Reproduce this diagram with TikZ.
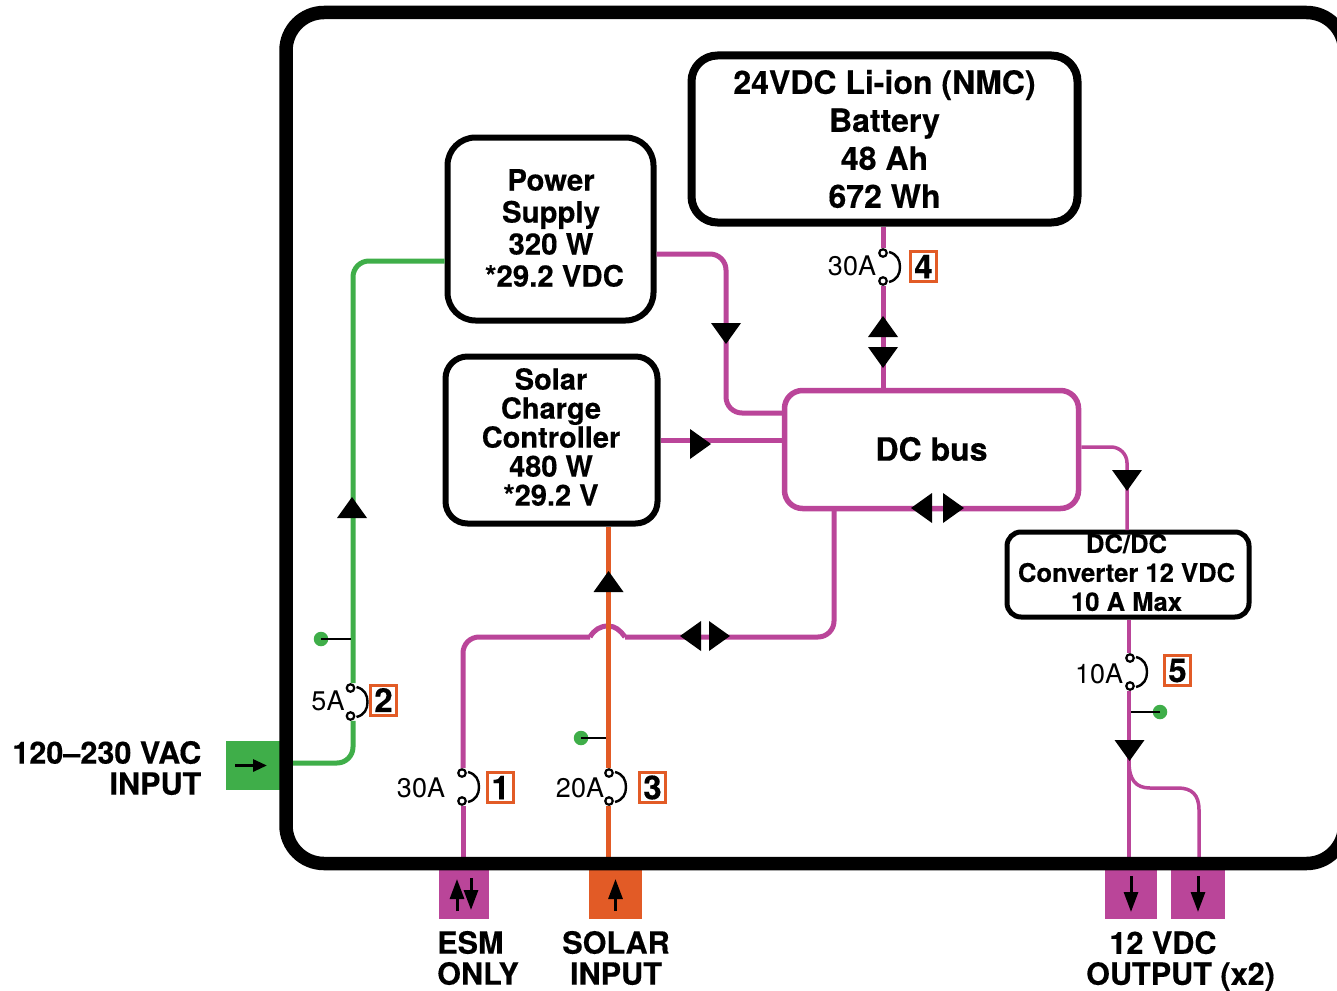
\documentclass[tikz,border=0pt]{standalone}
\usepackage{fontspec}
\setmainfont[BoldFeatures={FakeBold=0.35}]{TeX Gyre Heros}
\usetikzlibrary{arrows.meta,calc}
\definecolor{cgreen}{HTML}{3FAE49}
\definecolor{cmag}{HTML}{BA4599}
\definecolor{corange}{HTML}{E25B26}
\tikzset{
  box/.style={draw=black,rounded corners=#1,fill=white,inner sep=0pt,align=center},
  boxtext/.style={inner sep=0pt,align=center},
  fs/.style n args={2}{font=\fontsize{#1}{#2}\selectfont\bfseries},
  port/.style={fill=#1,inner sep=0pt,minimum height=49pt},
  wire/.style={line width=5pt,rounded corners=16pt},
  thin wire/.style={cmag,line width=3.5pt,rounded corners=16pt},
  tap/.style={draw=black,line width=2.5pt},
  terminal/.style={circle,draw=black,fill=white,line width=2.2pt,inner sep=0pt,minimum size=7.5pt},
  dot/.style={circle,fill=cgreen,inner sep=0pt,minimum size=14.5pt},
  fuselabel/.style={font=\fontsize{27}{27}\selectfont,inner sep=0pt},
  numbox/.style={draw=corange,line width=3pt,fill=white,inner sep=0pt,minimum width=26pt,minimum height=30pt,font=\fontsize{33}{33}\selectfont\bfseries},
  caption/.style={font=\fontsize{30.6}{31}\selectfont\bfseries,inner sep=0pt,align=#1},
  smallarrow/.style={draw=black,line width=3pt,-{Triangle[length=20pt,width=14pt]}}
}
% arrowheads: tip coordinate given
\newcommand{\headU}[2]{\fill (#1,#2)--(#1-15,#2+21)--(#1+15,#2+21)--cycle;}
\newcommand{\headD}[2]{\fill (#1,#2)--(#1-15,#2-21)--(#1+15,#2-21)--cycle;}
\newcommand{\headL}[2]{\fill (#1,#2)--(#1+21,#2-15)--(#1+21,#2+15)--cycle;}
\newcommand{\headR}[2]{\fill (#1,#2)--(#1-21,#2-15)--(#1-21,#2+15)--cycle;}
% fuse: name, x, top y
\newcommand{\fuse}[3]{%
  \node[terminal] (#1a) at (#2,#3) {};
  \node[terminal] (#1b) at (#2,#3+28) {};
  \draw[black,line width=2.4pt] (#2+6,#3-1) .. controls (#2+14,#3+1) and (#2+17,#3+7) .. (#2+17,#3+14)
     .. controls (#2+17,#3+21) and (#2+14,#3+27) .. (#2+6,#3+29);
}
\begin{document}
\begin{tikzpicture}[x=1pt,y=-1pt]
\useasboundingbox (0,0) rectangle (1337,990);
\clip (0,0) rectangle (1337,990);
\fill[white] (0,0) rectangle (1337,990);

% ports
\node[port=cgreen,minimum width=54pt] (acin) at (253,765.5) {};
\node[port=cmag,minimum width=50pt] (esm) at (464,894) {};
\node[port=corange,minimum width=53pt] (solar) at (615.5,894) {};
\node[port=cmag,minimum width=52pt] (outa) at (1131,894) {};
\node[port=cmag,minimum width=54pt] (outb) at (1198,894) {};

% boxes
\node[box=26pt,line width=8pt,minimum width=386pt,minimum height=167pt,fs={32}{38}] (batt) at (884.5,139) {24VDC Li-ion (NMC)\\Battery\\48 Ah\\672 Wh};
\node[box=28pt,line width=6pt,minimum width=206pt,minimum height=183pt] (ps) at (550.5,229) {};
\node[boxtext,fs={29.4}{32}] (pstext) at (551,228) {Power\\Supply\\320 W\\\hspace*{7pt}*29.2 VDC};
\node[box=22pt,line width=6pt,minimum width=212pt,minimum height=167pt] (scc) at (551.5,440) {};
\node[boxtext,fs={29}{29}] (scctext) at (551,437) {Solar\\Charge\\Controller\\480 W\\*29.2 V};
\node[box=18pt,draw=cmag,line width=5.5pt,minimum width=294pt,minimum height=118pt] (bus) at (931.5,449.5) {};
\node[boxtext,fs={32}{38}] (bustext) at (931.5,449) {DC bus};
\node[box=14pt,line width=5pt,minimum width=242pt,minimum height=85pt] (dcdc) at (1128,574.5) {};
\node[boxtext,fs={25.6}{29}] (dcdctext) at (1126.5,572.5) {DC/DC\\Converter 12 VDC\\10 A Max};

% fuses
\fuse{fa}{462}{773}
\fuse{fb}{350.5}{688}
\fuse{fc}{609}{773}
\fuse{fd}{883}{253}
\fuse{fe}{1130}{658}

% bump coordinates and wires
\coordinate (bumpl) at (590,637);
\coordinate (bumpr) at (625,637);
\coordinate (esmtop) at (463,857);
\coordinate (soltop) at (608.5,857);
\coordinate (gx) at (353,0);
\coordinate (ox) at (1129,0);
\draw[wire,draw=cmag] (esmtop) -- (fab.south -| esmtop);
\draw[wire,draw=cmag] (faa.north -| esmtop) -- (esmtop |- bumpl) -- (bumpl);
\draw[draw=cmag,line width=5pt,line cap=butt] (bumpl)
   .. controls (594,630) and (600,626) .. (608,626) .. controls (615,626) and (620,630) .. (bumpr);
\draw[wire,draw=cmag] (bumpr) -- (834,637) -- (834,510);
% orange
\draw[wire,draw=corange] (soltop) -- (fcb.south -| soltop);
\draw[wire,draw=corange] (fca.north -| soltop) -- (scc.south -| soltop);
% green
\draw[wire,draw=cgreen] (fbb.south -| gx) -- (353,763) -- (285,763);
\draw[wire,draw=cgreen] (fba.north -| gx) -- (353,261) -- (ps.west |- 0,261);
% power supply / solar to bus
\draw[wire,draw=cmag] (ps.east |- 0,254) -- (726,254) -- (726,413) -- (bus.west |- 0,413);
\draw[wire,draw=cmag] (scc.east |- 0,440) -- (bus.west |- 0,440);
% battery to bus
\draw[wire,draw=cmag] (batt.south -| fda) -- (fda.north);
\draw[wire,draw=cmag] (fdb.south) -- (bus.north -| fdb);
% bus to dcdc
\draw[thin wire] (bus.east |- 0,447) -- (1127,447) -- (1127,530);
% dcdc to fuse
\draw[thin wire] (dcdc.south -| ox) -- (fea.north -| ox);
\draw[thin wire] (feb.south -| ox) -- (1129,857);
\draw[thin wire,rounded corners=0pt] (1129,762) .. controls (1129,780) and (1136,788) .. (1150,788)
   -- (1178,788) .. controls (1192,788) and (1199,795) .. (1199,810) -- (1199,857);

% frame
\draw[black,line width=13.5pt,rounded corners=38pt] (286,12.5) rectangle (1344.5,863.5);

% taps
\node[dot] (da) at (321,639) {};
\node[dot] (db) at (581,738) {};
\node[dot] (dc) at (1160,712) {};
\draw[tap] (da.center) -- (351,639);
\draw[tap] (db.center) -- (606,738);
\draw[tap] (dc.center) -- (1131,712);

% arrowheads
\headU{352}{497}
\headU{608.5}{571}
\headD{726}{344}
\headR{711}{444}
\headU{883}{316}
\headD{883}{368}
\headL{911}{508}
\headR{964}{508}
\headD{1127}{491}
\headD{1129.5}{761}
\headL{680}{636}
\headR{730}{636}

% port arrows
\draw[smallarrow,-{Triangle[length=14pt,width=12pt]}] ([shift={(-18,0)}]acin.center) -- ([shift={(14,0)}]acin.center);
\draw[smallarrow] ([shift={(-7,17)}]esm.center) -- ([shift={(-7,-15)}]esm.center);
\draw[smallarrow] ([shift={(7,-16)}]esm.center) -- ([shift={(7,16)}]esm.center);
\draw[smallarrow] ([shift={(0,17)}]solar.center) -- ([shift={(0,-15)}]solar.center);
\draw[smallarrow] ([shift={(0,-18)}]outa.center) -- ([shift={(0,18)}]outa.center);
\draw[smallarrow] ([shift={(0,-18)}]outb.center) -- ([shift={(0,18)}]outb.center);

% fuse labels
\node[fuselabel] (la) at (421,788) {30A};
\node[fuselabel] (lb) at (328,701) {5A};
\node[fuselabel] (lc) at (580,788) {20A};
\node[fuselabel] (ld) at (852,266) {30A};
\node[fuselabel] (le) at (1099,674) {10A};
\node[numbox] (na) at (500.5,787.5) {1};
\node[numbox] (nb) at (383.5,700) {2};
\node[numbox] (nc) at (652.5,787.5) {3};
\node[numbox] (nd) at (923.5,266.5) {4};
\node[numbox] (ne) at (1177.5,670.5) {5};

% captions
\node[caption=right,anchor=east] (cac) at (201.5,768) {120–230 VAC\\INPUT};
\node[caption=left,anchor=west] (cesm) at (437,958) {ESM\\ONLY};
\node[caption=center] (csol) at (616,958) {SOLAR\\INPUT};
\node[caption=center] (cout) at (1180.5,961) {\mbox{12 VDC\hspace{35pt}}\\OUTPUT (x2)};
\end{tikzpicture}
\end{document}
